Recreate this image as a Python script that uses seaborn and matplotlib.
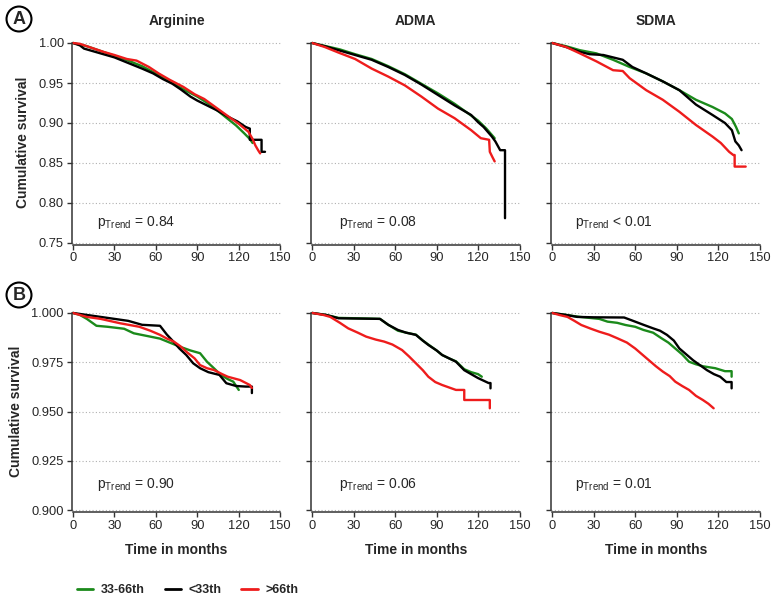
import numpy as np
import pandas as pd
import matplotlib
matplotlib.use("Agg")
import matplotlib.pyplot as plt
import seaborn as sns
from matplotlib.lines import Line2D

# ---------------- data ----------------
MARKERS = ["Arginine", "ADMA", "SDMA"]
GROUPS = ["33-66th", "<33th", ">66th"]
P_TEXT_A = ["= 0.84", "= 0.08", "< 0.01"]
P_TEXT_B = ["= 0.90", "= 0.06", "= 0.01"]
X_TICKS = [0, 30, 60, 90, 120, 150]
Y_TICKS_A = [0.75, 0.80, 0.85, 0.90, 0.95, 1.00]
Y_TICKS_B = [0.900, 0.925, 0.950, 0.975, 1.000]

# Row A - Arginine
A_ARG_GREEN_T = [0, 5, 10, 20, 30, 40, 50, 60, 70, 80, 90, 100, 110, 118, 124, 128, 130]
A_ARG_GREEN_S = [1.0, 0.998, 0.996, 0.990, 0.984, 0.978, 0.971, 0.962, 0.952, 0.942, 0.933, 0.922, 0.908, 0.897, 0.887, 0.880, 0.875]
A_ARG_BLACK_T = [0, 5, 8, 12, 20, 30, 40, 50, 58, 65, 72, 78, 85, 90, 97, 104, 112, 119, 125, 128, 128, 136.5, 136.5, 139]
A_ARG_BLACK_S = [1.0, 0.997, 0.993, 0.991, 0.987, 0.982, 0.975, 0.968, 0.962, 0.955, 0.949, 0.942, 0.933, 0.928, 0.922, 0.916, 0.908, 0.902, 0.895, 0.893, 0.879, 0.879, 0.864, 0.864]
A_ARG_RED_T = [0, 5, 10, 22, 30, 39, 46, 55, 62, 70, 80, 88, 95, 103, 111, 120, 127, 130, 132, 134, 135.5]
A_ARG_RED_S = [1.0, 0.999, 0.996, 0.989, 0.985, 0.980, 0.978, 0.970, 0.962, 0.954, 0.945, 0.936, 0.930, 0.920, 0.910, 0.899, 0.889, 0.880, 0.872, 0.866, 0.862]
# Row A - ADMA
A_ADMA_GREEN_T = [0, 10, 20, 31, 43, 55, 67, 79, 91, 103, 112, 120, 126, 132]
A_ADMA_GREEN_S = [1.0, 0.996, 0.992, 0.986, 0.980, 0.971, 0.961, 0.949, 0.937, 0.924, 0.913, 0.903, 0.893, 0.881]
A_ADMA_BLACK_T = [0, 9, 19, 31, 43, 55, 67, 79, 91, 103, 115, 120, 124, 127, 130, 132.5, 136, 139.5, 139.5]
A_ADMA_BLACK_S = [1.0, 0.996, 0.991, 0.985, 0.979, 0.970, 0.960, 0.948, 0.935, 0.922, 0.910, 0.901, 0.895, 0.889, 0.883, 0.877, 0.866, 0.866, 0.781]
A_ADMA_RED_T = [0, 9, 19, 31, 43, 55, 67, 79, 91, 103, 115, 122, 128, 128.5, 130.5, 132]
A_ADMA_RED_S = [1.0, 0.995, 0.988, 0.980, 0.968, 0.958, 0.947, 0.933, 0.918, 0.906, 0.891, 0.881, 0.879, 0.864, 0.857, 0.852]
# Row A - SDMA
A_SDMA_GREEN_T = [0, 10, 20, 32, 44, 56, 68, 80, 92, 104, 116, 125, 130, 133, 135]
A_SDMA_GREEN_S = [1.0, 0.996, 0.991, 0.987, 0.979, 0.970, 0.962, 0.952, 0.941, 0.929, 0.920, 0.912, 0.905, 0.895, 0.887]
A_SDMA_BLACK_T = [0, 10, 20, 27, 37, 44, 51, 58, 68, 80, 92, 104, 116, 125, 130, 132.5, 135, 137]
A_SDMA_BLACK_S = [1.0, 0.995, 0.989, 0.986, 0.985, 0.982, 0.979, 0.970, 0.962, 0.952, 0.941, 0.923, 0.910, 0.900, 0.891, 0.877, 0.872, 0.866]
A_SDMA_RED_T = [0, 10, 20, 32, 44, 51, 56, 68, 80, 92, 104, 116, 122, 128, 131, 132, 132, 140]
A_SDMA_RED_S = [1.0, 0.995, 0.987, 0.977, 0.966, 0.965, 0.956, 0.941, 0.929, 0.914, 0.8975, 0.883, 0.875, 0.864, 0.860, 0.860, 0.8455, 0.8455]

# Row B - Arginine
B_ARG_GREEN_T = [0, 5, 10, 14, 17, 25, 37, 44, 56, 63, 70, 77, 85, 92, 97, 102, 107, 112, 116, 120]
B_ARG_GREEN_S = [1.0, 0.999, 0.997, 0.995, 0.9935, 0.993, 0.992, 0.9897, 0.988, 0.987, 0.985, 0.983, 0.981, 0.9796, 0.9753, 0.972, 0.9686, 0.9665, 0.9652, 0.961]
B_ARG_BLACK_T = [0, 10, 20, 30, 40, 50, 63, 68, 72, 77, 82, 87, 92, 98, 106, 111, 118, 125, 129.5, 129.5]
B_ARG_BLACK_S = [1.0, 0.999, 0.998, 0.997, 0.996, 0.994, 0.9935, 0.989, 0.986, 0.982, 0.9787, 0.9745, 0.972, 0.970, 0.9686, 0.9644, 0.963, 0.9627, 0.9627, 0.9594]
B_ARG_RED_T = [0, 10, 20, 34, 48, 56, 63, 68, 73, 78, 82, 88, 92, 97, 102, 108, 112, 121, 128, 129.5]
B_ARG_RED_S = [1.0, 0.998, 0.997, 0.9948, 0.993, 0.991, 0.9889, 0.987, 0.9855, 0.983, 0.9804, 0.977, 0.9736, 0.972, 0.9711, 0.969, 0.9677, 0.966, 0.9635, 0.962]
# Row B - ADMA
B_ADMA_GREEN_T = [0, 10, 19, 39, 49, 55, 62, 68, 75, 80, 84, 90, 94, 99, 104, 110, 115, 120, 122.7]
B_ADMA_GREEN_S = [1.0, 0.999, 0.9975, 0.9972, 0.997, 0.994, 0.991, 0.990, 0.989, 0.986, 0.984, 0.981, 0.9787, 0.977, 0.9755, 0.9715, 0.970, 0.969, 0.9677]
B_ADMA_BLACK_T = [0, 10, 19, 39, 49, 55, 62, 68, 75, 80, 84, 90, 94, 99, 104, 110, 115, 120, 127.6, 129, 129]
B_ADMA_BLACK_S = [1.0, 0.999, 0.9973, 0.9971, 0.997, 0.994, 0.9914, 0.990, 0.9889, 0.986, 0.9838, 0.981, 0.9787, 0.977, 0.9753, 0.971, 0.969, 0.967, 0.9645, 0.9645, 0.9618]
B_ADMA_RED_T = [0, 8, 13, 20, 26, 33, 39, 46, 52, 58, 65, 70, 75, 80, 84, 89, 94, 100, 104, 110, 110, 128.5, 128.5]
B_ADMA_RED_S = [1.0, 0.999, 0.998, 0.995, 0.9922, 0.990, 0.988, 0.9865, 0.9855, 0.984, 0.9812, 0.978, 0.9745, 0.971, 0.9677, 0.965, 0.9635, 0.962, 0.961, 0.961, 0.9559, 0.9559, 0.9517]
# Row B - SDMA
B_SDMA_GREEN_T = [0, 10, 20, 34, 40, 47, 53, 60, 66, 73, 79, 84, 89, 94, 99, 104, 109, 118, 125, 129.8, 129.8]
B_SDMA_GREEN_S = [1.0, 0.999, 0.998, 0.997, 0.9956, 0.995, 0.9939, 0.993, 0.9914, 0.990, 0.9872, 0.985, 0.982, 0.979, 0.9753, 0.974, 0.973, 0.972, 0.9705, 0.9705, 0.9677]
B_SDMA_BLACK_T = [0, 10, 18, 30, 52, 60, 66, 73, 78, 83, 88, 92, 97, 102, 107, 112, 117, 121.5, 126, 129.8, 129.8]
B_SDMA_BLACK_S = [1.0, 0.999, 0.998, 0.9978, 0.9977, 0.9956, 0.994, 0.9922, 0.991, 0.9889, 0.986, 0.982, 0.979, 0.976, 0.9735, 0.971, 0.969, 0.9677, 0.965, 0.965, 0.9618]
B_SDMA_RED_T = [0, 5, 11, 16, 21, 28, 34, 41, 47, 54, 60, 65, 70, 75, 80, 85, 89, 94, 99, 104, 109, 113, 116.8]
B_SDMA_RED_S = [1.0, 0.999, 0.998, 0.996, 0.9939, 0.992, 0.9905, 0.989, 0.9872, 0.985, 0.982, 0.979, 0.976, 0.973, 0.9703, 0.968, 0.9652, 0.963, 0.961, 0.958, 0.9559, 0.954, 0.9517]

COLORS = {"33-66th": "#1b8a1b", "<33th": "#000000", ">66th": "#ee1c1c"}

# ---------------- build long table ----------------
series = {
    ("A", "Arginine"): [(A_ARG_GREEN_T, A_ARG_GREEN_S), (A_ARG_BLACK_T, A_ARG_BLACK_S), (A_ARG_RED_T, A_ARG_RED_S)],
    ("A", "ADMA"): [(A_ADMA_GREEN_T, A_ADMA_GREEN_S), (A_ADMA_BLACK_T, A_ADMA_BLACK_S), (A_ADMA_RED_T, A_ADMA_RED_S)],
    ("A", "SDMA"): [(A_SDMA_GREEN_T, A_SDMA_GREEN_S), (A_SDMA_BLACK_T, A_SDMA_BLACK_S), (A_SDMA_RED_T, A_SDMA_RED_S)],
    ("B", "Arginine"): [(B_ARG_GREEN_T, B_ARG_GREEN_S), (B_ARG_BLACK_T, B_ARG_BLACK_S), (B_ARG_RED_T, B_ARG_RED_S)],
    ("B", "ADMA"): [(B_ADMA_GREEN_T, B_ADMA_GREEN_S), (B_ADMA_BLACK_T, B_ADMA_BLACK_S), (B_ADMA_RED_T, B_ADMA_RED_S)],
    ("B", "SDMA"): [(B_SDMA_GREEN_T, B_SDMA_GREEN_S), (B_SDMA_BLACK_T, B_SDMA_BLACK_S), (B_SDMA_RED_T, B_SDMA_RED_S)],
}
rows = []
for (row, marker), lst in series.items():
    for g, (t, s) in zip(GROUPS, lst):
        for k, (ti, si) in enumerate(zip(t, s)):
            rows.append((row, marker, g, k, ti, si))
df = pd.DataFrame(rows, columns=["row", "marker", "group", "order", "time", "surv"])

# ---------------- style ----------------
sns.set_theme(style="white")
plt.rcParams["font.family"] = ["Liberation Sans", "DejaVu Sans"]
plt.rcParams["mathtext.fontset"] = "custom"
plt.rcParams["mathtext.rm"] = "Liberation Sans"
plt.rcParams["mathtext.it"] = "Liberation Sans"
plt.rcParams["mathtext.bf"] = "Liberation Sans:bold"

W, H = 774, 600
fig = plt.figure(figsize=(W / 100, H / 100), dpi=100)

col_left_px = [71.6, 310.9, 550.9]
ax_w_px = 210.0
row_geom = {"A": (40.6, 244.6, (0.748, 1.003)), "B": (310.0, 512.3, (0.899, 1.0015))}
spine_col = "#333333"

for r, (top_px, bot_px, ylim) in row_geom.items():
    for ci, marker in enumerate(MARKERS):
        ax = fig.add_axes([col_left_px[ci] / W, 1 - bot_px / H, ax_w_px / W, (bot_px - top_px) / H])
        sub = df[(df.row == r) & (df.marker == marker)].sort_values(["group", "order"])
        sns.lineplot(data=sub, x="time", y="surv", hue="group", hue_order=GROUPS,
                     palette=COLORS, estimator=None, sort=False, units="group",
                     linewidth=1.7, legend=False, ax=ax)
        ax.set_xlim(-1, 151)
        ax.set_ylim(*ylim)
        ax.set_xticks(X_TICKS)
        yt = Y_TICKS_A if r == "A" else Y_TICKS_B
        ax.set_yticks(yt)
        if r == "A":
            ax.set_yticklabels([f"{v:.2f}" for v in yt])
        else:
            ax.set_yticklabels([f"{v:.3f}" for v in yt])
        for sp in ["top", "right"]:
            ax.spines[sp].set_visible(False)
        for sp in ["left", "bottom"]:
            ax.spines[sp].set_color(spine_col)
            ax.spines[sp].set_linewidth(1.1)
        ax.spines["bottom"].set_bounds(0, 150)
        ax.spines["left"].set_bounds(yt[0], yt[-1])
        ax.tick_params(axis="both", which="major", direction="out", length=3.5, width=1.0,
                       color=spine_col, labelsize=9.3, pad=2, left=True, bottom=True)
        if ci > 0:
            ax.tick_params(axis="y", labelleft=False)
        ax.yaxis.grid(True, linestyle=(0, (1, 2)), color="#b0b0b0", linewidth=0.8)
        ax.xaxis.grid(False)
        ax.set_axisbelow(True)
        ax.set_ylabel("")
        ax.set_xlabel("")
        if ci == 0:
            ax.set_ylabel("Cumulative survival", fontsize=10, fontweight="bold", labelpad=6)
        if r == "A":
            ax.set_title(marker, fontsize=10, fontweight="bold", pad=11)
        else:
            ax.set_xlabel("Time in months", fontsize=10, fontweight="bold", labelpad=8)
        ptxt = P_TEXT_A[ci] if r == "A" else P_TEXT_B[ci]
        xfrac = [0.12, 0.135, 0.115][ci]
        yfrac = 0.11 if r == "A" else 0.135
        ax.text(xfrac, yfrac, r"p$_{\mathrm{Trend}}$ " + ptxt, transform=ax.transAxes,
                fontsize=10, va="center", ha="left")

# circled panel letters
for lab, (cx, cy) in {"A": (19, 19), "B": (19, 295)}.items():
    fig.text(cx / W, 1 - cy / H, lab, fontsize=13, fontweight="bold", ha="center", va="center",
             bbox=dict(boxstyle="circle,pad=0.22", fc="white", ec="black", lw=1.5))

handles = [Line2D([0], [0], color=COLORS[g], lw=2) for g in GROUPS]
fig.legend(handles, GROUPS, loc="center left", bbox_to_anchor=(72 / W, 1 - 590 / H), ncol=3,
           frameon=False, prop={"weight": "bold", "size": 9}, handlelength=1.3,
           columnspacing=1.6, handletextpad=0.6, borderaxespad=0)

fig.savefig("out.png", dpi=100)
